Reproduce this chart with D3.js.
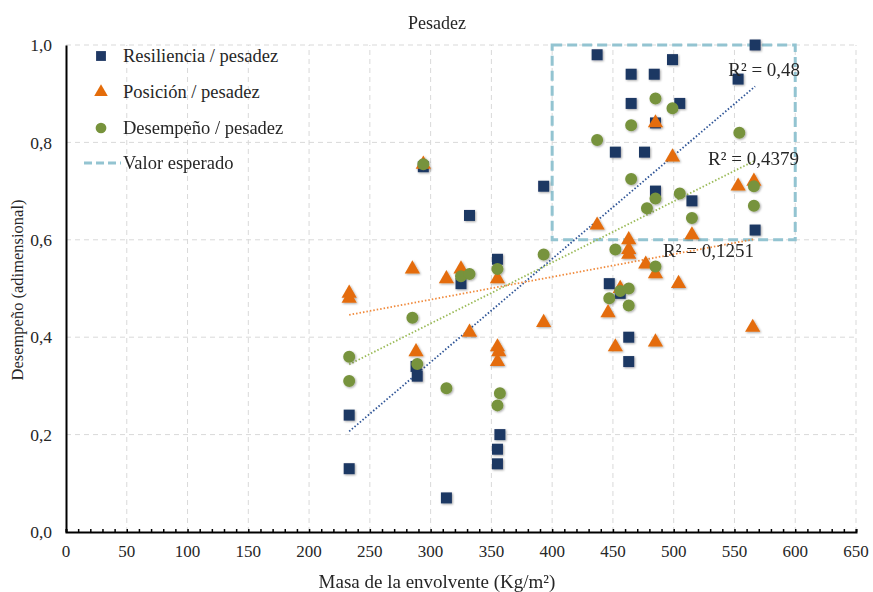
<!DOCTYPE html>
<html>
<head>
<meta charset="utf-8">
<script src="https://cdn.jsdelivr.net/npm/d3@7"></script>
<style>
  body { margin: 0; background: #fff; }
  text { font-family: "Liberation Serif", "Times New Roman", serif; fill: #262626; }
</style>
</head>
<body>
<script>
  // Masa (Kg/m2) vs desempeno, one list of [x, y] per series.
  var resiliencia = [
    [233, 0.24], [233, 0.13], [288, 0.34], [289, 0.32], [294, 0.75], [313, 0.07],
    [325, 0.51], [332, 0.65], [355, 0.56], [357, 0.20], [355, 0.17], [355, 0.14],
    [393, 0.71], [437, 0.98], [447, 0.51], [456, 0.49], [463, 0.40], [463, 0.35],
    [452, 0.78], [465, 0.94], [465, 0.88], [476, 0.78], [484, 0.94], [485, 0.84],
    [485, 0.70], [499, 0.97], [505, 0.88], [515, 0.68], [553, 0.93], [567, 1.00],
    [567, 0.62]
  ];
  var posicion = [
    [233, 0.49], [233, 0.48], [285, 0.54], [288, 0.37], [294, 0.755], [313, 0.52],
    [325, 0.54], [332, 0.41], [355, 0.52], [355, 0.38], [356, 0.37], [355, 0.35],
    [393, 0.43], [437, 0.63], [446, 0.45], [452, 0.38], [456, 0.50], [463, 0.60],
    [463, 0.58], [463, 0.57], [477, 0.55], [485, 0.53], [485, 0.39], [485, 0.84],
    [499, 0.77], [504, 0.51], [515, 0.61], [553, 0.71], [566, 0.72], [565, 0.42]
  ];
  var desempeno = [
    [233, 0.36], [233, 0.31], [285, 0.44], [289, 0.345], [294, 0.755], [313, 0.295],
    [325, 0.525], [332, 0.53], [355, 0.54], [357, 0.285], [355, 0.26], [393, 0.57],
    [437, 0.805], [447, 0.48], [452, 0.58], [456, 0.495], [463, 0.50], [463, 0.465],
    [465, 0.835], [465, 0.725], [478, 0.665], [485, 0.89], [485, 0.685], [485, 0.545],
    [499, 0.87], [505, 0.695], [515, 0.645], [554, 0.82], [566, 0.71], [566, 0.67]
  ];

  var seriesNames = ["Resiliencia / pesadez", "Posición / pesadez", "Desempeño / pesadez"];
  var r2Labels = ["R² = 0,48", "R² = 0,1251", "R² = 0,4379"];
  var expectedName = "Valor esperado";
  var expectedBox = [400, 600, 0.6, 1.0]; // x0, x1, y0, y1

  var xTicks = d3.range(0, 651, 50);
  var xMinorTicks = d3.range(0, 651, 10);
  var yTicks = [0, 0.2, 0.4, 0.6, 0.8, 1.0];

  var width = 873, height = 592;
  var colors = ["#1F3864", "#E46C0A", "#77933C"];
  var trendColors = ["#2F5597", "#F08A3C", "#9BBB59"];

  var svg = d3.select("body").append("svg")
    .attr("width", width)
    .attr("height", height);

  var defs = svg.append("defs");
  var shadow = defs.append("filter").attr("id", "shadow")
    .attr("x", "-50%").attr("y", "-50%").attr("width", "200%").attr("height", "200%");
  shadow.append("feDropShadow")
    .attr("dx", 1).attr("dy", 1).attr("stdDeviation", 0.8)
    .attr("flood-color", "#000").attr("flood-opacity", 0.35);

  var x = d3.scaleLinear().domain([0, 650]).range([66, 856]);
  var y = d3.scaleLinear().domain([0, 1]).range([532, 45]);

  // grid
  svg.append("g").selectAll("line.v")
    .data(xTicks.slice(1))
    .join("line")
    .attr("x1", d => x(d)).attr("x2", d => x(d))
    .attr("y1", y(0)).attr("y2", y(1))
    .attr("stroke", "#D9D9D9").attr("stroke-dasharray", "5,4");
  svg.append("g").selectAll("line.h")
    .data(yTicks.slice(1))
    .join("line")
    .attr("x1", x(0)).attr("x2", x(650))
    .attr("y1", d => y(d)).attr("y2", d => y(d))
    .attr("stroke", "#D9D9D9").attr("stroke-dasharray", "5,4");

  // axes
  var fmt = d => d3.format(".1f")(d).replace(".", ",");
  var xAxis = svg.append("g").attr("transform", "translate(0," + y(0) + ")")
    .call(d3.axisBottom(x).tickValues(xMinorTicks).tickSize(-3).tickFormat(""));
  xAxis.select(".domain").attr("stroke", "#000").attr("stroke-width", 2);
  xAxis.selectAll(".tick line").attr("stroke", "#000").attr("stroke-width", 1.5);

  svg.append("g").selectAll("text")
    .data(xTicks)
    .join("text")
    .attr("x", d => x(d)).attr("y", 557)
    .attr("text-anchor", "middle")
    .style("font-size", "17px")
    .text(d => d);

  var yAxis = svg.append("g").attr("transform", "translate(" + x(0) + ",0)")
    .call(d3.axisLeft(y).tickValues(yTicks).tickSize(0).tickPadding(14).tickFormat(fmt));
  yAxis.select(".domain").attr("stroke", "#000").attr("stroke-width", 2);
  yAxis.selectAll(".tick text").style("font-size", "17.5px")
    .style("font-family", "Liberation Serif").attr("fill", "#262626");

  // expected value box
  svg.append("rect")
    .attr("x", x(expectedBox[0])).attr("y", y(expectedBox[3]))
    .attr("width", x(expectedBox[1]) - x(expectedBox[0]))
    .attr("height", y(expectedBox[2]) - y(expectedBox[3]))
    .attr("fill", "none").attr("stroke", "#93C4D1")
    .attr("stroke-width", 3).attr("stroke-dasharray", "10,5");

  // linear least squares fit
  function fit(pts) {
    var mx = d3.mean(pts, p => p[0]), my = d3.mean(pts, p => p[1]);
    var sxy = d3.sum(pts, p => (p[0] - mx) * (p[1] - my));
    var sxx = d3.sum(pts, p => (p[0] - mx) * (p[0] - mx));
    var b = sxy / sxx, a = my - b * mx;
    var ext = d3.extent(pts, p => p[0]);
    return [[ext[0], a + b * ext[0]], [ext[1], a + b * ext[1]]];
  }

  var allSeries = [resiliencia, posicion, desempeno];
  var line = d3.line().x(d => x(d[0])).y(d => y(d[1]));

  allSeries.forEach(function(s, i) {
    svg.append("path")
      .attr("d", line(fit(s)))
      .attr("fill", "none")
      .attr("stroke", trendColors[i])
      .attr("stroke-width", 1.8)
      .attr("stroke-dasharray", "1.5,2");
  });

  // markers
  var symbols = [d3.symbolSquare, d3.symbolTriangle, d3.symbolCircle];
  var sizes = [121, 100, 113];
  var marks = svg.append("g").attr("filter", "url(#shadow)");
  allSeries.forEach(function(s, i) {
    marks.append("g").selectAll("path")
      .data(s)
      .join("path")
      .attr("transform", d => "translate(" + x(d[0]) + "," + y(d[1]) + ")")
      .attr("d", d3.symbol().type(symbols[i]).size(sizes[i]))
      .attr("fill", colors[i]);
  });

  // R2 labels, anchored at the end of each trend line
  var labelOffsets = [[45, -10], [0, 18], [45, 4]];
  allSeries.forEach(function(s, i) {
    var end = fit(s)[1];
    svg.append("text")
      .attr("x", x(end[0]) + labelOffsets[i][0])
      .attr("y", y(end[1]) + labelOffsets[i][1])
      .attr("text-anchor", "end")
      .style("font-size", "19px")
      .text(r2Labels[i]);
  });

  // legend
  var legend = svg.append("g");
  seriesNames.forEach(function(name, i) {
    var ly = 56 + i * 36;
    legend.append("path")
      .attr("transform", "translate(101," + ly + ")")
      .attr("d", d3.symbol().type(symbols[i]).size(sizes[i] * 0.8))
      .attr("fill", colors[i]);
    legend.append("text")
      .attr("x", 123).attr("y", ly + 6)
      .style("font-size", "18.5px")
      .text(name);
  });
  legend.append("line")
    .attr("x1", 84).attr("x2", 121).attr("y1", 163).attr("y2", 163)
    .attr("stroke", "#93C4D1").attr("stroke-width", 3).attr("stroke-dasharray", "8,4");
  legend.append("text")
    .attr("x", 123).attr("y", 169)
    .style("font-size", "18.5px")
    .text(expectedName);

  // titles
  svg.append("text")
    .attr("x", 437).attr("y", 29)
    .attr("text-anchor", "middle")
    .style("font-size", "18px")
    .text("Pesadez");
  svg.append("text")
    .attr("x", 437).attr("y", 588)
    .attr("text-anchor", "middle")
    .style("font-size", "19px")
    .text("Masa de la envolvente (Kg/m²)");
  svg.append("text")
    .attr("transform", "translate(23,290) rotate(-90)")
    .attr("text-anchor", "middle")
    .style("font-size", "16.5px")
    .text("Desempeño (adimensional)");
</script>
</body>
</html>
